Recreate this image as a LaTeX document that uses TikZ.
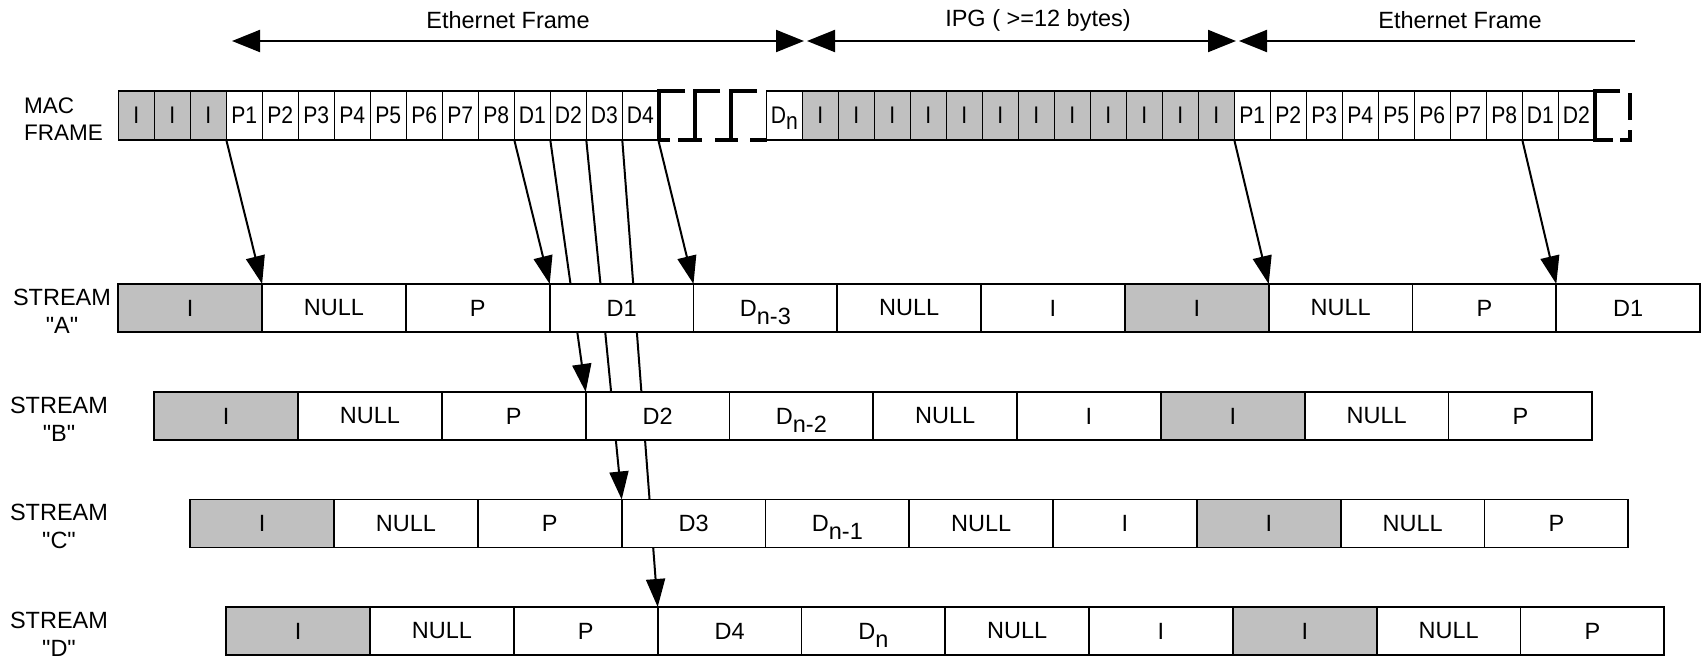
\documentclass[tikz,border=0pt]{standalone}
\usepackage{fontspec}
\setmainfont{Liberation Sans}[Ligatures=TeXOff]
\usetikzlibrary{arrows.meta,backgrounds}
\definecolor{cellgray}{RGB}{192,192,192}
\pgfdeclarelayer{paper}
\pgfsetlayers{paper,background,main}
\newcommand{\narrowtxt}[1]{\scalebox{0.88}[1]{#1}}
\newcommand{\subtxt}[2]{#1\smash{\raisebox{#2}{}}}
\tikzset{
  maccell/.style={draw, line width=1.6pt, minimum height=49pt, minimum width=36pt,
    inner sep=0pt, outer sep=0pt, anchor=north west, font=\fontsize{24}{26}\selectfont},
  scell/.style={draw, line width=1.8pt, minimum height=48pt, minimum width=143.8pt,
    inner sep=0pt, outer sep=0pt, anchor=north west, font=\fontsize{23.5}{26}\selectfont},
  conn/.style={line width=2pt, -{Triangle[length=28pt,width=19pt]}},
  span/.style={line width=2pt},
  lab/.style={font=\fontsize{23.5}{28}\selectfont, inner sep=0pt, align=center},
  brk/.style={line width=3.2pt},
}
\begin{document}
\begin{tikzpicture}[x=1pt,y=-1pt]
\begin{pgfonlayer}{paper}
  \fill[white] (0,0) rectangle (1701,657);
\end{pgfonlayer}
\useasboundingbox (0,0) rectangle (1701,657);

% top span arrows
\coordinate (s1l) at (232,41);
\coordinate (s1r) at (804,41);
\coordinate (s2l) at (807,41);
\coordinate (s2r) at (1236,41);
\coordinate (s3l) at (1239,41);
\coordinate (s3r) at (1635,41);
\draw[span, {Triangle[length=28pt,width=22pt]}-{Triangle[length=28pt,width=22pt]}] (s1l) -- (s1r);
\draw[span, {Triangle[length=28pt,width=22pt]}-{Triangle[length=28pt,width=22pt]}] (s2l) -- (s2r);
\draw[span, {Triangle[length=28pt,width=22pt]}-] (s3l) -- (s3r);
\node[lab] (t1) at (508,20) {Ethernet Frame};
\node[lab] (t2) at (1038,20) {IPG ( >=12 bytes)};
\node[lab] (t3) at (1460,20) {Ethernet Frame};

% MAC frame
\node[font=\fontsize{22.5}{27}\selectfont, inner sep=0pt, align=left, anchor=west] (maclab) at (24,119) {MAC\\FRAME};
\foreach \k/\t/\f in {0/I/cellgray,1/I/cellgray,2/I/cellgray,3/P1/white,4/P2/white,5/P3/white,
  6/P4/white,7/P5/white,8/P6/white,9/P7/white,10/P8/white,11/D1/white,12/D2/white,13/D3/white,
  14/D4/white,18/{D\smash{\raisebox{-6pt}{n}}}/white,
  19/I/cellgray,20/I/cellgray,21/I/cellgray,22/I/cellgray,23/I/cellgray,24/I/cellgray,
  25/I/cellgray,26/I/cellgray,27/I/cellgray,28/I/cellgray,29/I/cellgray,30/I/cellgray,
  31/P1/white,32/P2/white,33/P3/white,34/P4/white,35/P5/white,36/P6/white,37/P7/white,
  38/P8/white,39/D1/white,40/D2/white}
  \node[maccell, fill=\f] (mac-\k) at ({118.3+36*\k},91) {\narrowtxt{\t}};

% breaks in MAC frame
\draw[brk] (685,91) -- (659,91) -- (659,140);
\draw[brk] (720,91) -- (695,91) -- (695,140);
\draw[brk] (757,91) -- (731,91) -- (731,140);
\draw[brk] (659,140) -- (670,140);
\draw[brk] (678,140) -- (702,140);
\draw[brk] (715,140) -- (738,140);
\draw[brk] (750,140) -- (767,140);
\draw[brk] (1620,91) -- (1595,91) -- (1595,140) -- (1613,140);
\draw[brk] (1630,93) -- (1630,120);
\draw[brk] (1620,140) -- (1630,140) -- (1630,130);

% streams
\node[lab] (alab) at (62,311) {STREAM\\"A"};
\node[lab] (blab) at (59,419) {STREAM\\"B"};
\node[lab] (clab) at (59,526) {STREAM\\"C"};
\node[lab] (dlab) at (59,634) {STREAM\\"D"};

\foreach \k/\t/\f in {0/I/cellgray,1/NULL/white,2/P/white,3/D1/white,4/{D\smash{\raisebox{-8pt}{n-3}}}/white,
  5/NULL/white,6/I/white,7/I/cellgray,8/NULL/white,9/P/white,10/D1/white}
  \node[scell, fill=\f] (a-\k) at ({118.3+143.8*\k},284) {\t};
\foreach \k/\t/\f in {0/I/cellgray,1/NULL/white,2/P/white,3/D2/white,4/{D\smash{\raisebox{-8pt}{n-2}}}/white,
  5/NULL/white,6/I/white,7/I/cellgray,8/NULL/white,9/P/white}
  \node[scell, fill=\f] (b-\k) at ({154.3+143.8*\k},392) {\t};
\foreach \k/\t/\f in {0/I/cellgray,1/NULL/white,2/P/white,3/D3/white,4/{D\smash{\raisebox{-8pt}{n-1}}}/white,
  5/NULL/white,6/I/white,7/I/cellgray,8/NULL/white,9/P/white}
  \node[scell, fill=\f] (c-\k) at ({190.3+143.8*\k},499.5) {\t};
\foreach \k/\t/\f in {0/I/cellgray,1/NULL/white,2/P/white,3/D4/white,4/{D\smash{\raisebox{-8pt}{n}}}/white,
  5/NULL/white,6/I/white,7/I/cellgray,8/NULL/white,9/P/white}
  \node[scell, fill=\f] (d-\k) at ({226.3+143.8*\k},607) {\t};

% connectors (behind the boxes)
\begin{scope}[on background layer]
  \draw[conn] (mac-3.south west) -- (a-1.north west);
  \draw[conn] (mac-11.south west) -- (a-3.north west);
  \draw[conn] (mac-14.south east) -- (a-4.north west);
  \draw[conn] (mac-31.south west) -- (a-8.north west);
  \draw[conn] (mac-39.south west) -- (a-10.north west);
  \draw[conn] (mac-12.south west) -- (b-3.north west);
  \draw[conn] (mac-13.south west) -- (c-3.north west);
  \draw[conn] (mac-14.south west) -- (d-3.north west);
\end{scope}
\end{tikzpicture}
\end{document}
